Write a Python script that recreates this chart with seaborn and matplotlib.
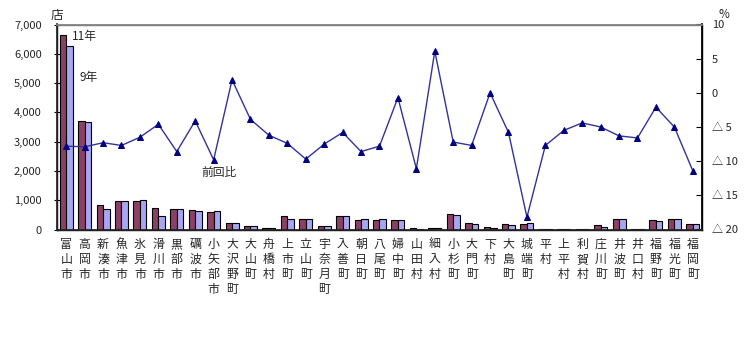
import numpy as np
import pandas as pd
import matplotlib
matplotlib.use("Agg")
import matplotlib.pyplot as plt
import seaborn as sns
from matplotlib.ticker import FuncFormatter

sns.set_theme(style="white")
plt.rcParams['font.family'] = ['Noto Sans CJK JP', 'DejaVu Sans']

categories = ["富山市", "高岡市", "新湊市", "魚津市", "氷見市", "滑川市", "黒部市", "礪波市",
              "小矢部市", "大沢野町", "大山町", "舟橋村", "上市町", "立山町", "宇奈月町", "入善町",
              "朝日町", "八尾町", "婦中町", "山田村", "細入村", "小杉町", "大門町", "下村",
              "大島町", "城端町", "平村", "上平村", "利賀村", "庄川町", "井波町", "井口村",
              "福野町", "福光町", "福岡町"]

stores_h11 = [6640, 3694, 826, 963, 963, 724, 690, 655, 587, 212, 109, 40, 451, 348, 109, 451,
              314, 314, 314, 40, 40, 519, 212, 75, 178, 178, 20, 20, 20, 143, 348, 5,
              314, 348, 178]
stores_h9 = [6255, 3660, 690, 963, 997, 451, 690, 621, 632, 212, 109, 35, 348, 348, 109, 451,
             348, 348, 314, 30, 40, 485, 178, 40, 143, 212, 20, 20, 20, 97, 348, 5,
             280, 348, 178]
ratio = [-7.8, -7.9, -7.3, -7.7, -6.5, -4.6, -8.6, -4.1, -9.8, 1.9, -3.9, -6.2, -7.4, -9.7,
         -7.5, -5.8, -8.6, -7.8, -0.7, -11.1, 6.1, -7.2, -7.7, 0.0, -5.8, -18.2, -7.7, -5.5,
         -4.4, -5.0, -6.3, -6.6, -2.1, -5.0, -11.4]

series_names = ["11年", "9年"]
left_ticks = [0, 1000, 2000, 3000, 4000, 5000, 6000, 7000]
right_ticks = [-20, -15, -10, -5, 0, 5, 10]

n = len(categories)
df = pd.DataFrame({
    "cat": categories * 2,
    "year": [series_names[0]] * n + [series_names[1]] * n,
    "value": stores_h11 + stores_h9,
})

fig = plt.figure(figsize=(7.56, 3.38), dpi=100)
ax = fig.add_axes([57 / 756, 1 - 229.5 / 338, 645 / 756, 205 / 338])

sns.barplot(data=df, x="cat", y="value", hue="year", order=categories,
            hue_order=series_names, palette=["#993366", "#9999FF"],
            width=0.7, edgecolor="black", linewidth=0.8, ax=ax, legend=False)
ax.set_xlim(-0.5, n - 0.5)
ax.set_ylim(0, 7000)
ax.set_yticks(left_ticks)
ax.yaxis.set_major_formatter(FuncFormatter(lambda v, p: f"{int(v):,}"))
ax.set_xlabel("")
ax.set_ylabel("")
ax.set_xticks(range(n))
ax.set_xticklabels(["\n".join(c) for c in categories], fontsize=8.6, linespacing=1.2,
                   va="top")
ax.tick_params(axis="x", which="major", length=0, pad=6)
ax.tick_params(axis="y", labelsize=8, length=4, width=0.8, direction="inout",
               color="black", left=True, pad=9)
for s in ["left", "bottom", "right"]:
    ax.spines[s].set_color("black")
    ax.spines[s].set_linewidth(1.0)
ax.spines["top"].set_color("#808080")
ax.spines["top"].set_linewidth(1.0)

ax2 = ax.twinx()
sns.lineplot(x=np.arange(n), y=ratio, ax=ax2, color="#333399", linewidth=1.0,
             marker="^", markersize=5, markerfacecolor="#000080", markeredgecolor="#000080")
ax2.set_ylim(-20, 10)
ax2.set_yticks(right_ticks)
ax2.yaxis.set_major_formatter(FuncFormatter(
    lambda v, p: f"△ {int(abs(v))}" if v < 0 else f"{int(v)}"))
ax2.tick_params(axis="y", labelsize=8, length=4, width=0.8, direction="in", color="black",
                right=True, pad=7)
for lab in ax2.get_yticklabels():
    lab.set_horizontalalignment("left")
ax2.spines["right"].set_color("black")
ax2.spines["top"].set_color("#808080")
ax2.set_xlim(-0.5, n - 0.5)

fig.text(57 / 756, 1 - 16 / 338, "店", fontsize=9, ha="center", va="center")
fig.text(724 / 756, 1 - 15 / 338, "%", fontsize=8.5, ha="center", va="center")
ax.text(0.3, 6600, "11年", fontsize=8.5, ha="left", va="center")
ax.text(0.7, 5200, "9年", fontsize=8.5, ha="left", va="center")
ax2.text(8.3, -11.6, "前回比", fontsize=8.5, ha="center", va="center")

fig.savefig("out.png", dpi=100, facecolor="white")
